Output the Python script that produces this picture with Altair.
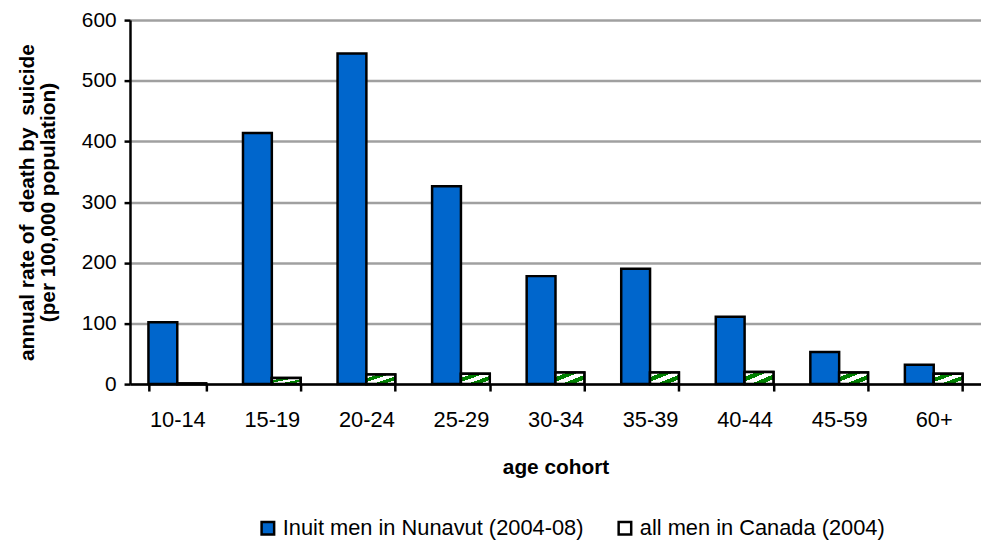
import altair as alt
import pandas as pd

cohorts = ["10-14", "15-19", "20-24", "25-29", "30-34", "35-39", "40-44", "45-59", "60+"]
inuit = [102, 414, 545, 326, 178, 190, 111, 53, 32]
canada = [1, 10, 16, 17, 19, 19, 20, 19, 17]
series = ["Inuit men in Nunavut (2004-08)", "all men in Canada (2004)"]

rows = []
for c, a, b in zip(cohorts, inuit, canada):
    rows.append({"cohort": c, "series": series[0], "value": a})
    rows.append({"cohort": c, "series": series[1], "value": b})
df = pd.DataFrame(rows)

FONT = "Liberation Sans"
NB = "\u00a0"

x = alt.X("cohort:N", sort=cohorts,
          scale=alt.Scale(paddingInner=0.39, paddingOuter=0.195),
          axis=alt.Axis(title="age cohort", labelAngle=0, labelFontSize=22,
                        labelFont=FONT, labelColor="black", labelPadding=19,
                        tickBand="extent", tickSize=7, tickWidth=2.5, tickColor="black",
                        domainColor="black", domainWidth=2.5, grid=False,
                        titleFont=FONT, titleFontSize=21, titleFontWeight="bold",
                        titleColor="black", titlePadding=26))
xo = alt.XOffset("series:N", sort=series, scale=alt.Scale(domain=series, paddingInner=0, paddingOuter=0))
y = alt.Y("value:Q", scale=alt.Scale(domain=[0, 600]),
          axis=alt.Axis(title=["annual rate of" + NB + " death by" + NB + " suicide", "(per 100,000 population)"],
                        values=[0, 100, 200, 300, 400, 500, 600],
                        labelFontSize=21, labelFont=FONT, labelColor="black", labelPadding=8,
                        tickSize=6, tickWidth=2.5, tickColor="black",
                        domainColor="black", domainWidth=2.5,
                        gridColor="#A0A0A0", gridWidth=2.5,
                        titleFont=FONT, titleFontSize=21, titleFontWeight="bold",
                        titleColor="black", titlePadding=23, titleLineHeight=21))

base = alt.Chart(df)

bars = base.mark_bar(stroke="black", strokeWidth=2.5).encode(
    x=x, xOffset=xo, y=y,
    color=alt.Color("series:N", sort=series,
                    scale=alt.Scale(domain=series, range=["#0066CC", "white"]),
                    legend=alt.Legend(title=None, orient="none", legendX=128, legendY=501,
                                      direction="horizontal", columnPadding=29,
                                      labelFont=FONT, labelFontSize=22, labelColor="black",
                                      labelLimit=0,
                                      symbolType="square", symbolSize=160,
                                      symbolStrokeColor="black", symbolStrokeWidth=2.5,
                                      labelOffset=4)),
)

G = "#008000"
W = "white"
stops = [
    alt.GradientStop(color=W, offset=0.0), alt.GradientStop(color=W, offset=0.2),
    alt.GradientStop(color=G, offset=0.2), alt.GradientStop(color=G, offset=0.4),
    alt.GradientStop(color=W, offset=0.4), alt.GradientStop(color=W, offset=0.6),
    alt.GradientStop(color=G, offset=0.6), alt.GradientStop(color=G, offset=0.8),
    alt.GradientStop(color=W, offset=0.8), alt.GradientStop(color=W, offset=1.0),
]
grad = alt.Gradient(gradient="linear", stops=stops, x1=0, y1=0, x2=1, y2=1)

pattern = base.transform_filter(alt.datum.series == series[1]).mark_bar(
    stroke="black", strokeWidth=2.5, color=grad).encode(x=x, xOffset=xo, y=y)

chart = alt.layer(bars, pattern).properties(
    width=858, height=367,
    autosize=alt.AutoSizeParams(type="none"),
    padding={"left": 123, "top": 10, "right": 0, "bottom": 158},
).configure_view(stroke=None).configure(background="white")

chart.save("out.html", embed_options={"renderer": "svg", "actions": False})
